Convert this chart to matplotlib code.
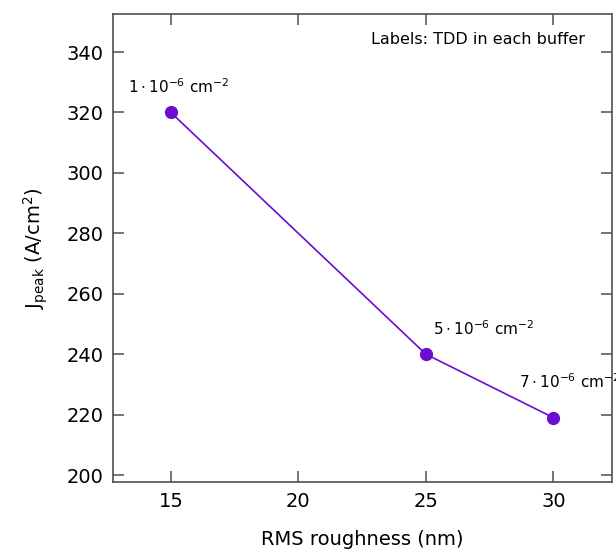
import numpy as np
import matplotlib.pyplot as plt

plt.rcParams['font.family'] = ['DejaVu Sans']
plt.rcParams['mathtext.fontset'] = 'dejavusans'

rms = [15, 25, 30]                 # RMS roughness (nm)
jpeak = [320, 240, 219]            # J_peak (A/cm^2)
tdd_labels = [r'$1\cdot10^{-6}$ cm$^{-2}$',
              r'$5\cdot10^{-6}$ cm$^{-2}$',
              r'$7\cdot10^{-6}$ cm$^{-2}$']
label_offsets = [(-43, 16), (7, 16), (-34, 27)]   # pixel offsets of labels

fig = plt.figure(figsize=(6.16, 5.52), dpi=100)
ax = fig.add_axes([113/616, 1 - 482/552, 499/616, 468/552])

purple = '#6a0dcf'
ax.plot(rms, jpeak, color=purple, lw=1.2, marker='o', ms=8.5)
for x, y, lab, off in zip(rms, jpeak, tdd_labels, label_offsets):
    ax.annotate(lab, (x, y), xytext=off, textcoords='offset pixels',
                fontsize=11, ha='left', va='bottom', annotation_clip=False)

ax.text(0.946, 0.945, 'Labels: TDD in each buffer', transform=ax.transAxes,
        ha='right', va='center', fontsize=11.5)

ax.set_xlim(12.73, 32.3)
ax.set_ylim(197.7, 352.6)
ax.set_xticks([15, 20, 25, 30])
ax.set_yticks(np.arange(200, 341, 20))
ax.tick_params(direction='in', length=8, width=1.1, color='#505050',
               top=True, right=True, labelsize=14, pad=7)
for s in ax.spines.values():
    s.set_color('#505050')
    s.set_linewidth(1.2)

ax.set_xlabel('RMS roughness (nm)', fontsize=14, labelpad=14)
ax.set_ylabel(r'J$_{\mathrm{peak}}$ (A/cm$^{2}$)', fontsize=14, labelpad=12)

fig.savefig('out.png', dpi=100)
